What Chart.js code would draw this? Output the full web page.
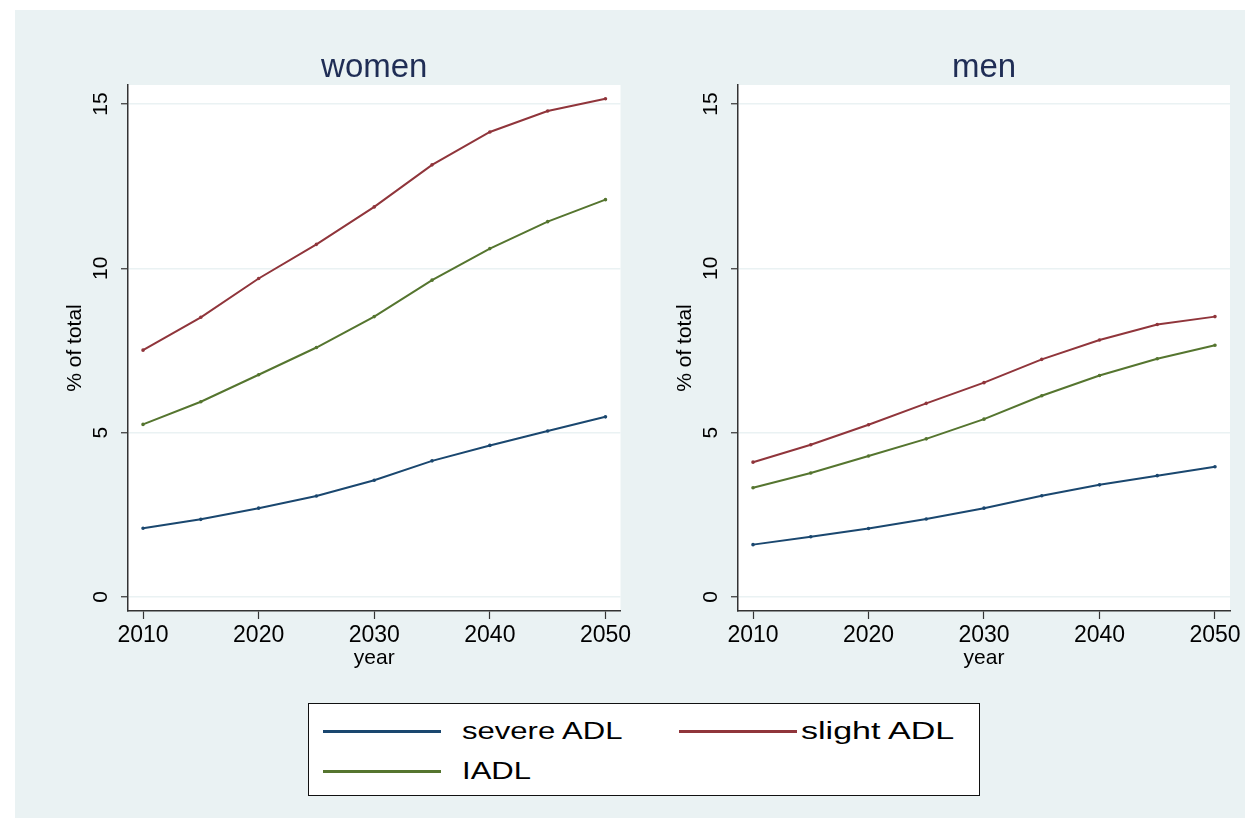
<!DOCTYPE html>
<html>
<head>
<meta charset="utf-8">
<script src="https://cdn.jsdelivr.net/npm/chart.js@4.4.1/dist/chart.umd.min.js"></script>
<style>
  body { margin: 0; background: #fff; width: 1252px; height: 818px; overflow: hidden; font-family: "Liberation Sans", Arial, sans-serif; }
  #bg { position: absolute; left: 15px; top: 10px; width: 1230px; height: 808px; background: #eaf2f3; }
  canvas { position: absolute; }
  #legend { position: absolute; left: 308px; top: 703px; width: 670px; height: 91px; background: #fff; border: 1.5px solid #111; }
  .item { position: absolute; height: 30px; }
  .item .ln { position: absolute; top: 14px; width: 118px; height: 2.5px; }
  .item .tx { position: absolute; left: 139px; top: 0; font-size: 23px; line-height: 30px; color: #000; white-space: nowrap; transform: scaleX(1.35); transform-origin: left center; }
</style>
</head>
<body>
<div id="bg"></div>
<canvas id="women" width="630" height="680" style="left:15px;top:10px"></canvas>
<canvas id="men" width="615" height="680" style="left:630px;top:10px"></canvas>
<div id="legend"></div>
<script>
const years = [2010, 2015, 2020, 2025, 2030, 2035, 2040, 2045, 2050];
const seriesNames = ["severe ADL", "slight ADL", "IADL"];
const seriesColors = ["#1a476f", "#90353b", "#55752f"];

const womenSevere = [2.09, 2.36, 2.70, 3.07, 3.55, 4.14, 4.61, 5.05, 5.48];
const womenSlight = [7.51, 8.51, 9.69, 10.73, 11.87, 13.15, 14.15, 14.79, 15.16];
const womenIADL = [5.25, 5.94, 6.76, 7.59, 8.53, 9.64, 10.60, 11.42, 12.09];

const menSevere = [1.59, 1.83, 2.08, 2.37, 2.70, 3.08, 3.41, 3.69, 3.96];
const menSlight = [4.10, 4.63, 5.24, 5.89, 6.52, 7.23, 7.82, 8.29, 8.53];
const menIADL = [3.32, 3.77, 4.29, 4.81, 5.41, 6.12, 6.74, 7.25, 7.66];

const yTicks = [0, 5, 10, 15];
const xTicks = [2010, 2020, 2030, 2040, 2050];

// white plot region + vertical y tick labels (stata style)
const panelPlugin = {
  id: "panel",
  beforeDraw(chart) {
    const a = chart.chartArea;
    const ctx = chart.ctx;
    ctx.save();
    ctx.fillStyle = "#fff";
    ctx.fillRect(a.left, a.top, a.right - a.left, a.bottom - a.top);
    ctx.restore();
  },
  afterDraw(chart) {
    const ctx = chart.ctx;
    const y = chart.scales.y;
    ctx.save();
    ctx.font = "21px 'Liberation Sans', Arial, sans-serif";
    ctx.fillStyle = "#000";
    ctx.textAlign = "center";
    ctx.textBaseline = "middle";
    yTicks.forEach((v) => {
      ctx.save();
      ctx.translate(chart.chartArea.left - 27, y.getPixelForValue(v));
      ctx.rotate(-Math.PI / 2);
      ctx.fillText(String(v), 0, 0);
      ctx.restore();
    });
    ctx.restore();
  },
};

function makePanel(id, title, severe, slight, iadl, axisWidth, padRight) {
  const lists = [severe, slight, iadl];
  const ctx = document.getElementById(id).getContext("2d");
  return new Chart(ctx, {
    type: "line",
    data: {
      datasets: lists.map((vals, i) => ({
        label: seriesNames[i],
        data: years.map((yr, j) => ({ x: yr, y: vals[j] })),
        borderColor: seriesColors[i],
        backgroundColor: seriesColors[i],
        borderWidth: 2,
        pointRadius: 0.8,
        pointHoverRadius: 0.8,
        tension: 0,
      })),
    },
    options: {
      responsive: false,
      animation: false,
      layout: { padding: { left: 0, right: padRight, top: 0, bottom: 0 } },
      plugins: {
        legend: { display: false },
        tooltip: { enabled: false },
        title: {
          display: true,
          text: title,
          fullSize: false,
          color: "#1f2d55",
          font: { size: 33, lineHeight: 1, family: "'Liberation Sans', Arial, sans-serif", weight: "normal" },
          padding: { top: 41.5, bottom: 0.5 },
        },
      },
      scales: {
        x: {
          type: "linear",
          min: 2008.7,
          max: 2051.3,
          afterBuildTicks: (s) => { s.ticks = xTicks.map((v) => ({ value: v })); },
          afterFit: (s) => { s.height = 79; s.paddingLeft = 0; s.paddingRight = 0; },
          grid: { drawOnChartArea: false, drawTicks: true, tickLength: 8, tickColor: "#333", tickWidth: 1.2 },
          border: { color: "#333", width: 1.5 },
          ticks: {
            color: "#000",
            padding: 3,
            maxRotation: 0,
            font: { size: 23, family: "'Liberation Sans', Arial, sans-serif" },
            callback: (v) => String(v),
          },
          title: {
            display: true,
            text: "year",
            color: "#000",
            font: { size: 21, family: "'Liberation Sans', Arial, sans-serif" },
            padding: { top: 0, bottom: 19.5 },
          },
        },
        y: {
          type: "linear",
          min: -0.43,
          max: 15.58,
          afterBuildTicks: (s) => { s.ticks = yTicks.map((v) => ({ value: v })); },
          afterFit: (s) => { s.width = axisWidth; s.paddingTop = 0; s.paddingBottom = 0; },
          grid: { color: "#eaf2f3", lineWidth: 1.5, drawTicks: true, tickLength: 7, tickColor: "#333", tickWidth: 1.2 },
          border: { color: "#333", width: 1.5 },
          ticks: { display: false },
          title: {
            display: true,
            text: "% of total",
            color: "#000",
            font: { size: 21, family: "'Liberation Sans', Arial, sans-serif" },
            padding: { top: axisWidth - 53 - 12.6, bottom: 0 },
          },
        },
      },
    },
    plugins: [panelPlugin],
  });
}

makePanel("women", "women", womenSevere, womenSlight, womenIADL, 113, 24.5);
makePanel("men", "men", menSevere, menSlight, menIADL, 108, 15);

// legend built from the same series names/colours
const legendPos = [
  { left: 14, top: 12, text: 139, sx: 1.35 },
  { left: 370, top: 12, text: 122, sx: 1.48 },
  { left: 14, top: 52, text: 139, sx: 1.35 },
];
const legendEl = document.getElementById("legend");
seriesNames.forEach((name, i) => {
  const item = document.createElement("div");
  item.className = "item";
  item.style.left = legendPos[i].left + "px";
  item.style.top = legendPos[i].top + "px";
  const ln = document.createElement("div");
  ln.className = "ln";
  ln.style.background = seriesColors[i];
  const tx = document.createElement("div");
  tx.className = "tx";
  tx.textContent = name;
  tx.style.left = legendPos[i].text + "px";
  tx.style.transform = "scaleX(" + legendPos[i].sx + ")";
  item.appendChild(ln);
  item.appendChild(tx);
  legendEl.appendChild(item);
});
</script>
</body>
</html>
